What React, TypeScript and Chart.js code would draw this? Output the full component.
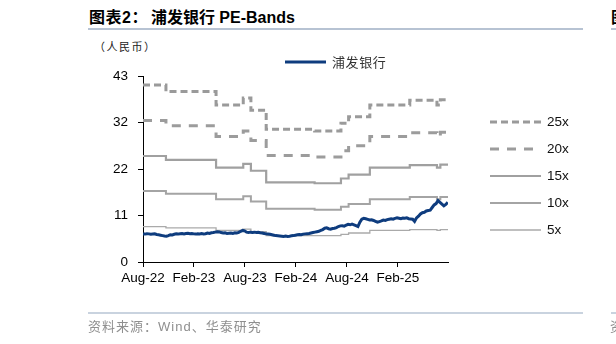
import React, { useEffect, useRef } from "react";
import { Chart, registerables } from "chart.js";

Chart.register(...registerables);

// ---- data ----
const X_TICK_MONTHS = [0, 6, 12, 18, 24, 30];
const X_TICK_LABELS = ["Aug-22", "Feb-23", "Aug-23", "Feb-24", "Aug-24", "Feb-25"];
const X_MAX_MONTH = 35.9;
const Y_TICK_VALUES = [0, 10.75, 21.5, 32.25, 43];
const Y_TICK_LABELS = ["0", "11", "22", "32", "43"];

// weekly closing price, starting Aug-22
const PRICE = [
  6.5, 6.45, 6.55, 6.5, 6.4, 6.45, 6.5, 6.35, 6.3, 6.2, 6.1, 6.0, 5.95,
  6.1, 6.3, 6.25, 6.4, 6.5, 6.45, 6.55, 6.6, 6.5, 6.6, 6.65, 6.55, 6.6, 6.5,
  6.45, 6.55, 6.5, 6.6, 6.5, 6.55, 6.7, 6.6, 6.75, 6.8, 6.9, 7.0, 6.95,
  6.8, 6.7, 6.75, 6.6, 6.65, 6.7, 6.6, 6.75, 6.7, 6.85, 7.1, 7.3, 7.2,
  6.9, 6.8, 6.9, 6.85, 6.9, 6.8, 6.85, 6.75, 6.7, 6.6, 6.5, 6.45,
  6.4, 6.3, 6.2, 6.1, 6.05, 6.0, 5.95, 5.9, 6.0, 5.9, 5.95, 6.05, 6.1, 6.2,
  6.3, 6.35, 6.3, 6.45, 6.5, 6.55, 6.6, 6.7, 6.8, 6.9, 7.0, 7.1,
  7.3, 7.5, 7.8, 7.9, 7.7, 7.6, 7.75, 7.8, 7.95, 8.2, 8.35, 8.4,
  8.3, 8.5, 8.7, 8.6, 8.75, 8.6, 8.4, 8.2, 9.2, 9.9, 10.1, 10.0,
  9.85, 9.7, 9.75, 9.6, 9.4, 9.2, 9.35, 9.5, 9.7, 9.6, 9.8, 9.9,
  10.0, 9.9, 10.1, 10.2, 10.1, 10.0, 10.15, 10.1, 10.2, 10.0, 9.95, 9.9,
  9.4, 10.2, 10.6, 11.1, 11.4, 11.5, 11.8, 11.9, 12.0, 12.6, 13.2, 13.5,
  14.2, 13.8, 13.4, 13.0, 13.3, 13.8,
];
const WEEK_IN_MONTHS = 7 / 30.4375;

// PE band step change points (months since Aug-22) and band values
const BAND_MONTHS = [0, 2.7, 8.6, 11.8, 12.7, 14.5, 20.2, 23.3, 24.2, 26.7, 31.4, 34.6, 35.0, 35.9];
const BAND_25X = [40.9, 39.4, 36.3, 37.9, 35.1, 30.7, 30.3, 32.1, 33.6, 36.3, 37.4, 36.3, 37.5, 37.5];
const BAND_20X = [32.7, 31.5, 29.0, 30.3, 28.1, 24.6, 24.3, 25.7, 26.9, 29.0, 29.9, 29.0, 30.0, 30.0];
const BAND_15X = [24.5, 23.6, 21.8, 22.7, 21.1, 18.4, 18.2, 19.3, 20.2, 21.8, 22.4, 21.8, 22.5, 22.5];
const BAND_10X = [16.4, 15.8, 14.5, 15.2, 14.0, 12.3, 12.1, 12.8, 13.4, 14.5, 15.0, 14.5, 15.0, 15.0];
const BAND_5X = [8.2, 7.9, 7.3, 7.6, 7.0, 6.1, 6.1, 6.4, 6.7, 7.3, 7.5, 7.3, 7.5, 7.5];

const LATIN = '"Liberation Sans", Arial, "Noto Sans CJK SC", sans-serif';
const CJK = '"Noto Sans CJK SC", "Liberation Sans", sans-serif';

const legendPlugin = {
  id: "customLegend",
  afterDraw(chart: any, _args: any, opts: any) {
    const ctx = chart.ctx;
    ctx.save();
    for (const item of opts.items) {
      const ds = chart.data.datasets[item.dataset];
      ctx.beginPath();
      ctx.strokeStyle = ds.borderColor;
      ctx.lineWidth = ds.borderWidth;
      ctx.setLineDash(ds.borderDash || []);
      ctx.lineCap = "butt";
      ctx.moveTo(item.x1, item.y);
      ctx.lineTo(item.x2, item.y);
      ctx.stroke();
      ctx.setLineDash([]);
      ctx.fillStyle = item.color;
      ctx.font = item.font;
      ctx.textBaseline = "middle";
      ctx.textAlign = "left";
      if (item.spacing) (ctx as any).letterSpacing = item.spacing;
      ctx.fillText(ds.label, item.x2 + item.gap, item.y + 0.5);
      (ctx as any).letterSpacing = "0px";
    }
    ctx.restore();
  },
};

export default function App() {
  const ref = useRef<HTMLCanvasElement | null>(null);

  useEffect(() => {
    if (!ref.current) return;
    const band = (vals: number[]) => BAND_MONTHS.map((m, i) => ({ x: m, y: vals[i] }));
    const price = PRICE.map((v, i) => ({ x: i * WEEK_IN_MONTHS, y: v }));

    const chart = new Chart(ref.current, {
      type: "line",
      data: {
        datasets: [
          {
            label: "浦发银行",
            data: price,
            borderColor: "#0e3c7e",
            borderWidth: 3,
            pointRadius: 0,
            order: 0,
          },
          {
            label: "25x",
            data: band(BAND_25X),
            borderColor: "#9a9a9a",
            borderWidth: 3,
            borderDash: [7, 4],
            stepped: true,
            pointRadius: 0,
            order: 1,
          },
          {
            label: "20x",
            data: band(BAND_20X),
            borderColor: "#9c9c9c",
            borderWidth: 3,
            borderDash: [9, 8],
            stepped: true,
            pointRadius: 0,
            order: 1,
          },
          {
            label: "15x",
            data: band(BAND_15X),
            borderColor: "#a0a0a0",
            borderWidth: 2.2,
            stepped: true,
            pointRadius: 0,
            order: 1,
          },
          {
            label: "10x",
            data: band(BAND_10X),
            borderColor: "#a4a4a4",
            borderWidth: 2,
            stepped: true,
            pointRadius: 0,
            order: 1,
          },
          {
            label: "5x",
            data: band(BAND_5X),
            borderColor: "#aaaaaa",
            borderWidth: 1.3,
            stepped: true,
            pointRadius: 0,
            order: 1,
          },
        ],
      },
      options: {
        animation: false,
        responsive: false,
        maintainAspectRatio: false,
        devicePixelRatio: 1,
        layout: { padding: { left: 0, top: 76, right: 168, bottom: 52 } },
        plugins: {
          legend: { display: false },
          tooltip: { enabled: false },
          customLegend: {
            items: [
              { dataset: 0, x1: 285, x2: 326, y: 62, gap: 6, color: "#333", font: `13px ${CJK}`, spacing: "0.6px" },
              { dataset: 1, x1: 490, x2: 541, y: 122, gap: 6, color: "#111", font: `13.5px ${LATIN}` },
              { dataset: 2, x1: 490, x2: 541, y: 149, gap: 6, color: "#111", font: `13.5px ${LATIN}` },
              { dataset: 3, x1: 490, x2: 541, y: 176, gap: 6, color: "#111", font: `13.5px ${LATIN}` },
              { dataset: 4, x1: 490, x2: 541, y: 203, gap: 6, color: "#111", font: `13.5px ${LATIN}` },
              { dataset: 5, x1: 490, x2: 541, y: 230, gap: 6, color: "#111", font: `13.5px ${LATIN}` },
            ],
          },
        } as any,
        scales: {
          x: {
            type: "linear",
            min: 0,
            max: X_MAX_MONTH,
            afterBuildTicks: (scale: any) => {
              scale.ticks = X_TICK_MONTHS.map((v) => ({ value: v }));
            },
            afterFit: (scale: any) => {
              scale.height = 30;
            },
            ticks: {
              autoSkip: false,
              maxRotation: 0,
              padding: 3,
              color: "#000",
              font: { family: LATIN, size: 13.5 },
              callback: (v: any) => {
                const i = X_TICK_MONTHS.indexOf(Number(v));
                return i >= 0 ? X_TICK_LABELS[i] : "";
              },
            },
            grid: { drawOnChartArea: false, drawTicks: true, tickLength: 5, color: "#000" },
            border: { display: true, color: "#000", width: 1 },
          },
          y: {
            type: "linear",
            min: 0,
            max: 43,
            afterBuildTicks: (scale: any) => {
              scale.ticks = Y_TICK_VALUES.map((v) => ({ value: v }));
            },
            afterFit: (scale: any) => {
              scale.width = 143;
            },
            ticks: {
              autoSkip: false,
              padding: 10,
              color: "#000",
              font: { family: LATIN, size: 13.5 },
              callback: (v: any) => {
                const i = Y_TICK_VALUES.indexOf(Number(v));
                return i >= 0 ? Y_TICK_LABELS[i] : "";
              },
            },
            grid: { drawOnChartArea: false, drawTicks: true, tickLength: 5, color: "#000" },
            border: { display: true, color: "#000", width: 1 },
          },
        },
      },
      plugins: [legendPlugin],
    });
    return () => chart.destroy();
  }, []);

  return (
    <div
      style={{
        position: "fixed",
        left: 0,
        top: 0,
        width: 616,
        height: 344,
        overflow: "hidden",
        background: "#fff",
      }}
    >
      <div
        style={{
          position: "absolute",
          left: 89,
          top: 8,
          fontFamily: LATIN,
          fontWeight: "bold",
          fontSize: 16,
          lineHeight: "20px",
          color: "#000",
          whiteSpace: "nowrap",
        }}
      >
        <span style={{ letterSpacing: "0.5px" }}>图表2：</span>
        <span style={{ marginLeft: 3 }}>浦发银行</span> PE-Bands
      </div>
      <div style={{ position: "absolute", left: 88, top: 28, width: 495, height: 2, background: "#b7c3d3" }} />
      <div
        style={{
          position: "absolute",
          left: 611,
          top: 8,
          fontFamily: LATIN,
          fontWeight: "bold",
          fontSize: 16,
          lineHeight: "20px",
          whiteSpace: "nowrap",
        }}
      >
        图表3：
      </div>
      <div style={{ position: "absolute", left: 611, top: 28, width: 20, height: 2, background: "#b7c3d3" }} />
      <div
        style={{
          position: "absolute",
          left: 94,
          top: 38,
          fontFamily: CJK,
          fontSize: 11,
          lineHeight: "16px",
          letterSpacing: "1.5px",
          color: "#222",
          whiteSpace: "nowrap",
        }}
      >
        （人民币）
      </div>
      <canvas
        ref={ref}
        width={616}
        height={344}
        style={{ position: "absolute", left: 0, top: 0, width: 616, height: 344 }}
      />
      <div style={{ position: "absolute", left: 88, top: 312, width: 495, height: 2, background: "#c9d3df" }} />
      <div style={{ position: "absolute", left: 611, top: 312, width: 20, height: 2, background: "#c9d3df" }} />
      <div
        style={{
          position: "absolute",
          left: 88,
          top: 317,
          fontFamily: CJK,
          fontSize: 13,
          lineHeight: "17px",
          letterSpacing: "1px",
          color: "#8f8f8f",
          whiteSpace: "nowrap",
        }}
      >
        资料来源：<span style={{ fontFamily: LATIN }}>Wind</span>、华泰研究
      </div>
      <div
        style={{
          position: "absolute",
          left: 610,
          top: 317,
          fontFamily: CJK,
          fontSize: 13,
          lineHeight: "17px",
          color: "#8f8f8f",
          whiteSpace: "nowrap",
        }}
      >
        资料来源
      </div>
    </div>
  );
}
